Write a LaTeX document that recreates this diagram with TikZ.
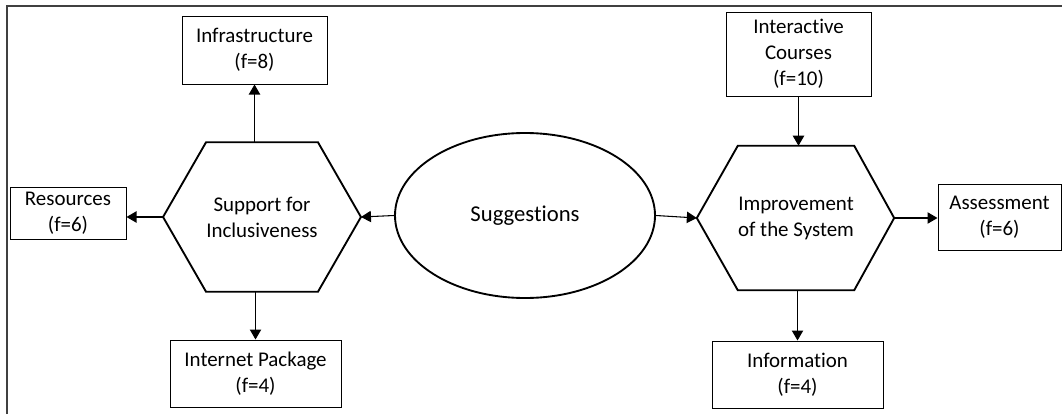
\documentclass[tikz,border=0pt]{standalone}
\usepackage{fontspec}
\setmainfont{Carlito}[Ligatures=NoCommon]
\usetikzlibrary{arrows.meta,calc,shapes.geometric}
\begin{document}
\begin{tikzpicture}[x=0.75pt,y=-0.75pt,
  every node/.style={font=\fontsize{15.7pt}{19.5pt}\selectfont, align=center, inner sep=0pt},
  box/.style={draw, line width=0.75pt},
  oval/.style={draw, ellipse, line width=1.4pt, minimum width=195pt, minimum height=123.75pt},
  arr/.style={line width=0.8pt, -{Triangle[length=7.5pt,width=8.5pt]}},
  hexline/.style={line width=1.4pt, line join=miter}
]
\useasboundingbox (0,0) rectangle (1062,414);
\draw[line width=0.8pt, black!75] (7,414) -- (7,6) -- (1062,6);

% central ellipse
\node[oval, font=\fontsize{17pt}{20pt}\selectfont] (S) at (525,215.5) {Suggestions};

% left hexagon
\node[minimum width=82.5pt, minimum height=111.75pt] (L) at (262,217) {Support for\\Inclusiveness};
\coordinate (Lw) at ($(L.west)+(-43,0)$);
\coordinate (Le) at ($(L.east)+(43,0)$);
\draw[hexline] (L.north west) -- (L.north east) -- (Le) -- (L.south east) -- (L.south west) -- (Lw) -- cycle;

% right hexagon
\node[minimum width=85.5pt, minimum height=108pt] (R) at (796,218) {Improvement\\of the System};
\coordinate (Rw) at ($(R.west)+(-41,0)$);
\coordinate (Re) at ($(R.east)+(40,0)$);
\draw[hexline] (R.north west) -- (R.north east) -- (Re) -- (R.south east) -- (R.south west) -- (Rw) -- cycle;

% boxes
\node[box, minimum width=108.75pt, minimum height=51pt] (I) at (254.5,50) {Infrastructure\\(f=8)};
\node[box, minimum width=87pt, minimum height=39pt] (Res) at (68,213) {Resources\\(f=6)};
\node[box, minimum width=128.25pt, minimum height=50.25pt] (P) at (255.5,373.5) {Internet Package\\(f=4)};
\node[box, minimum width=108.75pt, minimum height=63pt] (C) at (798.5,54) {Interactive\\Courses\\(f=10)};
\node[box, minimum width=92.25pt, minimum height=49.5pt] (A) at (999.5,217) {Assessment\\(f=6)};
\node[box, minimum width=128.25pt, minimum height=50.25pt] (Inf) at (797.5,374.5) {Information\\(f=4)};

% connectors
\draw[arr] (S.west) -- (Le);
\draw[arr] (S.east) -- (Rw);
\draw[arr] (L.north -| I.south) -- (I.south);
\draw[arr] (Lw) -- (Lw -| Res.east);
\draw[arr] (L.south -| P.north) -- (P.north);
\draw[arr] (C.south) -- (C.south |- R.north);
\draw[arr] (Re) -- (Re -| A.west);
\draw[arr] (R.south -| Inf.north) -- (Inf.north);
\end{tikzpicture}
\end{document}
